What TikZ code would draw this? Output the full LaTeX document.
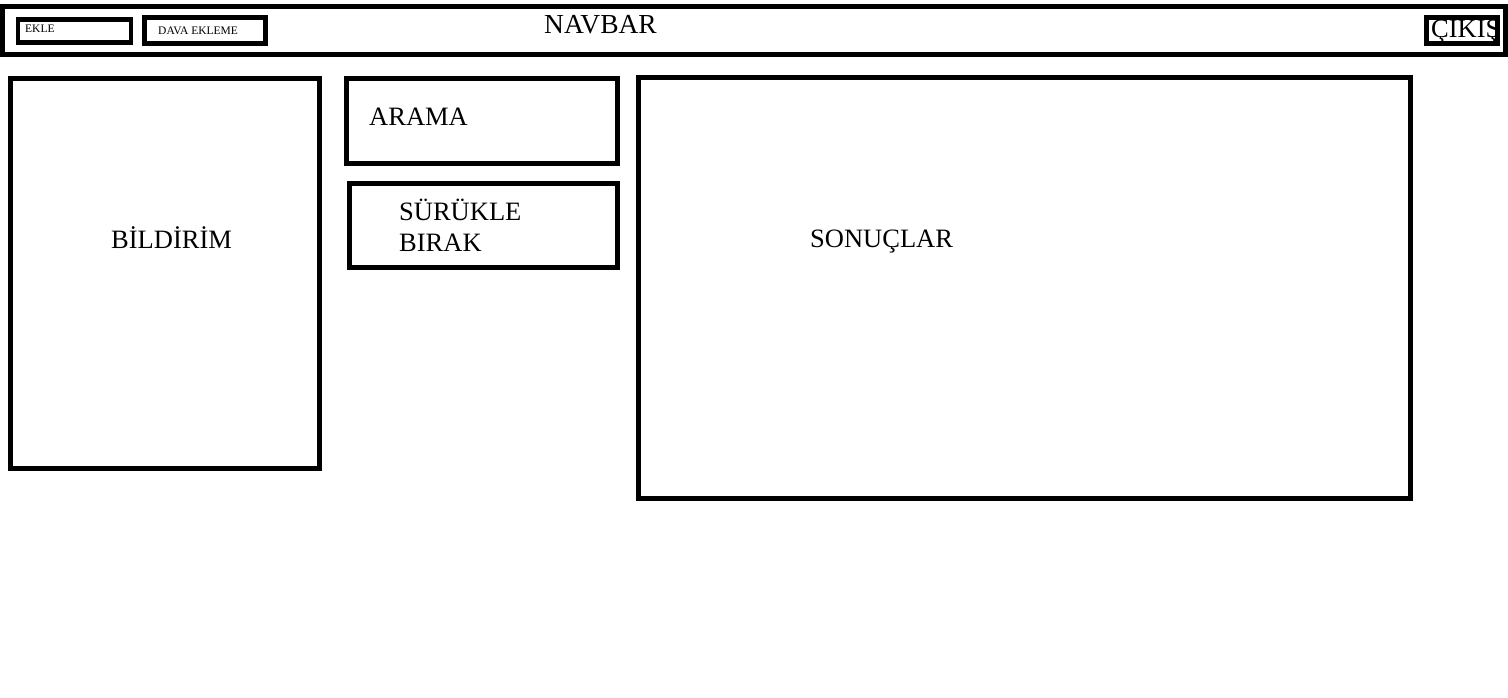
\documentclass[tikz,border=0pt]{standalone}
\usepackage{fontspec}
\setmainfont{Liberation Serif}
\begin{document}
\begin{tikzpicture}[x=1pt,y=-1pt,
  frame/.style={draw=black,line width=4.5pt,inner sep=0pt,outer sep=0pt,anchor=north west},
  lbl/.style={inner sep=0pt,anchor=base west,font=\rmfamily\fontsize{26.5}{29}\selectfont},
  small/.style={inner sep=0pt,anchor=base west,font=\rmfamily\fontsize{11.5}{13}\selectfont}]
\useasboundingbox[fill=white] (0,0) rectangle (1508,698);
\node[frame,minimum width=1503pt,minimum height=48pt] (nav) at (2.5,6.5) {};
\node[frame,minimum width=113pt,minimum height=23pt] (ekle) at (18,19.5) {};
\node[frame,minimum width=121pt,minimum height=26pt] (dava) at (144.5,17.5) {};
\node[frame,minimum width=71pt,minimum height=26pt] (cikis) at (1426.5,17.5) {};
\node[frame,minimum width=309pt,minimum height=390pt] (bildirim) at (10.5,78.5) {};
\node[frame,minimum width=271pt,minimum height=85pt] (arama) at (346.5,78.5) {};
\node[frame,minimum width=268pt,minimum height=84pt] (surukle) at (349.5,183.5) {};
\node[frame,minimum width=772pt,minimum height=421pt] (sonuc) at (638.5,77.5) {};
\node[lbl,font=\rmfamily\fontsize{27.5}{30}\selectfont] (tnav) at (544,33.5) {NAVBAR};
\node[small] (tekle) at (25,33) {EKLE};
\node[small] (tdava) at (158,35) {DAVA EKLEME};
\node[lbl] (tcikis) at (1431,38) {ÇIKIŞ};
\node[lbl] (tarama) at (369,126) {ARAMA};
\node[lbl] (tsur) at (399,220) {SÜRÜKLE};
\node[lbl] (tbirak) at (399,251) {BIRAK};
\node[lbl] (tbil) at (111,248) {BİLDİRİM};
\node[lbl] (tson) at (810,247) {SONUÇLAR};
\end{tikzpicture}
\end{document}
